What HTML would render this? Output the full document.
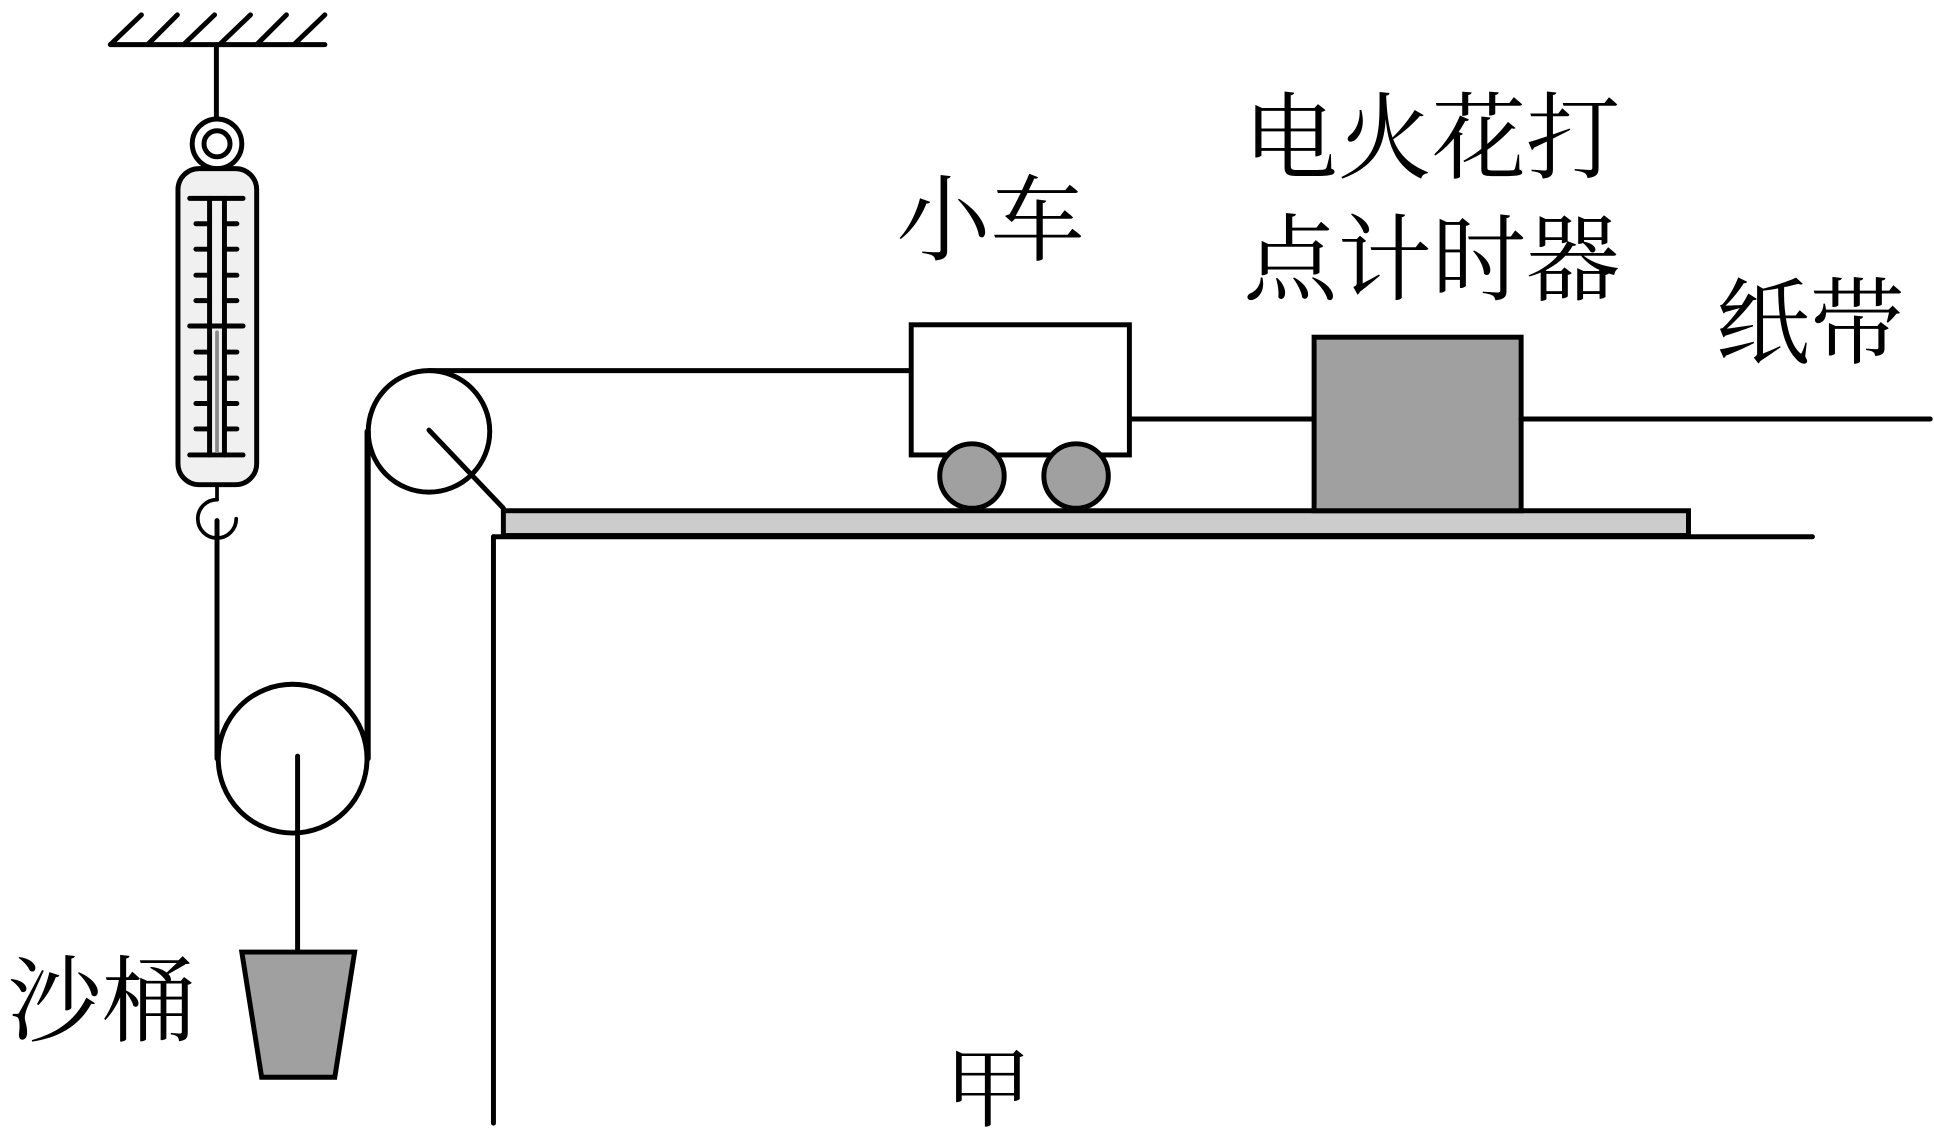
<!DOCTYPE html>
<html><head><meta charset="utf-8"><style>html,body{margin:0;padding:0;background:#fff}svg{display:block}</style></head>
<body>
<svg width="1934" height="1138" viewBox="0 0 1560 918" xmlns="http://www.w3.org/2000/svg">
<g stroke="#000" stroke-width="4" stroke-linecap="round" fill="none">
<!-- ceiling -->
<line x1="89" y1="36" x2="262" y2="36"/>
<line x1="89" y1="36" x2="114" y2="12"/>
<line x1="119" y1="36" x2="143" y2="12"/>
<line x1="148" y1="36" x2="173" y2="12"/>
<line x1="177" y1="36" x2="202" y2="12"/>
<line x1="207" y1="36" x2="231" y2="12"/>
<line x1="237" y1="36" x2="262" y2="12"/>
<line x1="174.5" y1="36" x2="174.5" y2="97"/>
<!-- ring -->
<circle cx="175" cy="116" r="20" fill="#fff"/>
<circle cx="175" cy="116" r="10.5"/>
<!-- body -->
<rect x="143.5" y="136" width="63.5" height="255" rx="17" fill="#f0f0f0"/>
<line x1="169" y1="160" x2="169" y2="367"/>
<line x1="181" y1="160" x2="181" y2="367"/>
<line x1="153" y1="160" x2="196" y2="160"/>
<line x1="153" y1="367" x2="196" y2="367"/>
<line x1="153" y1="263" x2="196" y2="263"/>
<g>
<line x1="158" y1="180.5" x2="169" y2="180.5"/><line x1="181" y1="180.5" x2="191" y2="180.5"/>
<line x1="158" y1="201" x2="169" y2="201"/><line x1="181" y1="201" x2="191" y2="201"/>
<line x1="158" y1="222" x2="169" y2="222"/><line x1="181" y1="222" x2="191" y2="222"/>
<line x1="158" y1="242.5" x2="169" y2="242.5"/><line x1="181" y1="242.5" x2="191" y2="242.5"/>
<line x1="158" y1="284" x2="169" y2="284"/><line x1="181" y1="284" x2="191" y2="284"/>
<line x1="158" y1="305" x2="169" y2="305"/><line x1="181" y1="305" x2="191" y2="305"/>
<line x1="158" y1="325.5" x2="169" y2="325.5"/><line x1="181" y1="325.5" x2="191" y2="325.5"/>
<line x1="158" y1="346" x2="169" y2="346"/><line x1="181" y1="346" x2="191" y2="346"/>
</g>
<line x1="175" y1="268" x2="175" y2="364" stroke="#888" stroke-width="3"/>
<!-- hook -->
<line x1="175" y1="391" x2="175" y2="403" stroke-width="3"/>
<path d="M175 403 A15.5 15.5 0 1 0 190.5 418.5" stroke-width="3"/>
<line x1="175" y1="420" x2="175" y2="612"/>
<!-- rope around pulleys -->
<line x1="296" y1="612" x2="296" y2="348"/>
<line x1="346" y1="299" x2="735" y2="299"/>
<circle cx="346" cy="348" r="49" fill="#fff"/>
<path d="M297 348 L297 348"/>
<line x1="297" y1="348" x2="297" y2="612" />
<line x1="346" y1="347" x2="406" y2="410"/>
<circle cx="236" cy="612" r="60" fill="#fff"/>
<line x1="240" y1="610" x2="240" y2="766"/>
<!-- bucket -->
<polygon points="195,768 286,768 270,869 211,869" fill="#a0a0a0"/>
<!-- board and table -->
<rect x="406" y="412" width="956" height="20" fill="#ccc" stroke-linecap="butt"/>
<line x1="398" y1="433" x2="1462" y2="433"/>
<line x1="398" y1="433" x2="398" y2="906"/>
<!-- cart -->
<rect x="735" y="262" width="176" height="105" fill="#fff"/>
<circle cx="784" cy="384" r="26" fill="#a0a0a0"/>
<circle cx="868" cy="384" r="26" fill="#a0a0a0"/>
<line x1="911" y1="338" x2="1060" y2="338"/>
<rect x="1060" y="272" width="167" height="140" fill="#a0a0a0"/>
<line x1="1227" y1="338" x2="1557" y2="338"/>
</g>
<g font-family="'Liberation Serif','Noto Serif CJK SC',serif" font-size="76" fill="#000">
<text x="723" y="204">小车</text>
<text x="1003" y="138">电火花打</text>
<text x="1003" y="236">点计时器</text>
<text x="1384" y="287">纸带</text>
<text x="6" y="834">沙桶</text>
<text x="762" y="903" font-size="70">甲</text>
</g>
</svg>
</body></html>
